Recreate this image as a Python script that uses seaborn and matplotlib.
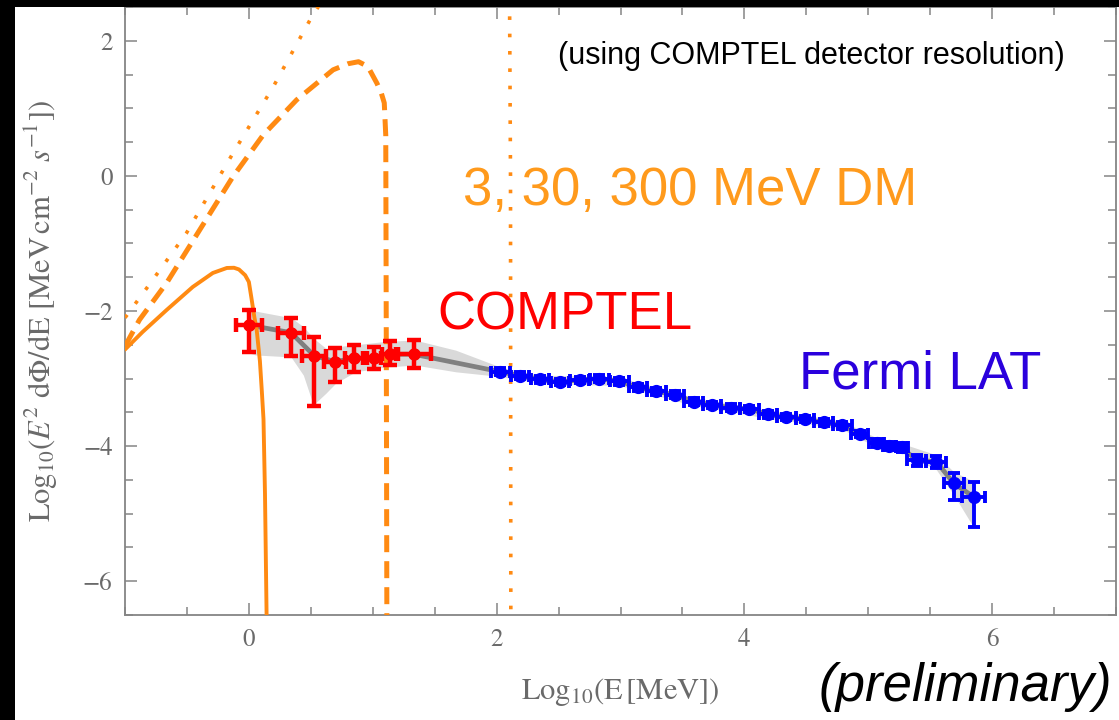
import numpy as np
import matplotlib
matplotlib.use("Agg")
import matplotlib.pyplot as plt
from matplotlib.patches import Rectangle
from matplotlib.ticker import MultipleLocator
import seaborn as sns

# ---------------- data ----------------
# dark-matter spectra (log10 E [MeV], log10 E^2 dPhi/dE)
dm3_x = [-1.0, -0.858, -0.664, -0.453, -0.291, -0.178, -0.12, -0.08, -0.03, 0.0,
         0.02, 0.045, 0.062, 0.089, 0.105, 0.118, 0.130, 0.143, 0.150]
dm3_y = [-2.57, -2.31, -1.985, -1.644, -1.437, -1.363, -1.36, -1.385, -1.47, -1.57,
         -1.80, -2.10, -2.26, -2.74, -3.2, -3.6, -4.70, -6.5, -7.5]

dm30_x = [-1.0, -0.883, -0.664, -0.397, -0.13, 0.116, 0.386, 0.68, 0.80, 0.885,
          0.96, 1.034, 1.07, 1.093, 1.105, 1.11, 1.115]
dm30_y = [-2.52, -2.13, -1.585, -0.80, -0.015, 0.607, 1.126, 1.57, 1.66, 1.69,
          1.62, 1.37, 1.22, 1.08, 0.6, -3.0, -7.5]

dm300_x = [-1.0, -0.8, -0.505, -0.127, 0.197, 0.494, 0.60, 1.0, 1.4, 1.7, 1.88,
           2.0, 2.07, 2.10, 2.112, 2.115]
dm300_y = [-2.10, -1.60, -0.85, 0.34, 1.32, 2.31, 2.62, 3.6, 4.2, 4.55, 4.69,
           4.6, 4.4, 4.1, 0.0, -7.5]

# COMPTEL
comptel_x = [0.0, 0.34, 0.526, 0.696, 0.85, 1.01, 1.136, 1.33]
comptel_y = [-2.21, -2.32, -2.66, -2.75, -2.70, -2.70, -2.64, -2.64]
comptel_xerr = [0.105, 0.108, 0.10, 0.088, 0.075, 0.06, 0.065, 0.14]
comptel_yerr_lo = [0.40, 0.34, 0.74, 0.30, 0.21, 0.16, 0.16, 0.20]
comptel_yerr_hi = [0.22, 0.21, 0.28, 0.20, 0.20, 0.17, 0.19, 0.21]

# Fermi LAT
fermi_x = [2.03, 2.19, 2.35, 2.51, 2.67, 2.83, 2.99, 3.14, 3.29, 3.44, 3.59, 3.74,
           3.89, 4.04, 4.19, 4.34, 4.49, 4.64, 4.79, 4.93, 5.07, 5.17, 5.27, 5.39,
           5.55, 5.69, 5.85]
fermi_y = [-2.90, -2.96, -3.01, -3.05, -3.02, -3.00, -3.04, -3.13, -3.19, -3.24,
           -3.34, -3.39, -3.43, -3.45, -3.53, -3.57, -3.60, -3.65, -3.69, -3.82,
           -3.95, -4.00, -4.02, -4.21, -4.23, -4.55, -4.75]
fermi_xerr = [0.075, 0.075, 0.075, 0.075, 0.075, 0.075, 0.075, 0.075, 0.075, 0.075,
              0.075, 0.075, 0.075, 0.075, 0.075, 0.075, 0.075, 0.075, 0.075, 0.07,
              0.06, 0.05, 0.05, 0.08, 0.08, 0.08, 0.09]
fermi_yerr_lo = [0.05, 0.05, 0.05, 0.05, 0.05, 0.05, 0.05, 0.05, 0.05, 0.05, 0.05,
                 0.05, 0.05, 0.05, 0.05, 0.05, 0.05, 0.05, 0.05, 0.05, 0.06, 0.06,
                 0.06, 0.09, 0.09, 0.25, 0.45]
fermi_yerr_hi = [0.05, 0.05, 0.05, 0.05, 0.05, 0.05, 0.05, 0.05, 0.05, 0.05, 0.05,
                 0.05, 0.05, 0.05, 0.05, 0.05, 0.05, 0.05, 0.05, 0.05, 0.06, 0.06,
                 0.06, 0.08, 0.08, 0.15, 0.22]

# uncertainty band around the combined fit
band_x = [0.0, 0.05, 0.34, 0.44, 0.52, 0.62, 0.70, 0.86, 1.10, 1.34, 1.67, 2.03,
          2.35, 2.67, 2.99, 3.29, 3.59, 3.89, 4.19, 4.49, 4.79, 5.07, 5.27, 5.55,
          5.69, 5.85]
band_hi = [-1.99, -2.00, -2.10, -2.23, -2.40, -2.55, -2.53, -2.50, -2.45, -2.43,
           -2.58, -2.83, -2.95, -2.96, -2.98, -3.13, -3.28, -3.37, -3.47, -3.54,
           -3.63, -3.88, -3.96, -4.13, -4.38, -4.52]
band_lo = [-2.62, -2.65, -2.68, -2.95, -3.39, -3.22, -3.07, -2.90, -2.83, -2.80,
           -2.90, -2.97, -3.07, -3.09, -3.10, -3.25, -3.40, -3.49, -3.59, -3.66,
           -3.75, -4.02, -4.10, -4.35, -4.72, -5.20]

x_major = [0, 2, 4, 6]
y_major = [-6, -4, -2, 0, 2]

# ---------------- style ----------------
sns.set_theme(style="ticks")
plt.rcParams.update({
    "mathtext.fontset": "stix",
    "font.family": ["STIXGeneral", "DejaVu Serif"],
    "axes.unicode_minus": True,
})

ORANGE = "#ff8a12"
ORANGE_TXT = "#ff9a1c"
GRAY_FRAME = "#858585"
GRAY_TXT = "#6a6a6a"

W, H = 1119, 720
fig = plt.figure(figsize=(W / 100, H / 100), dpi=100, facecolor="white")
# black border strips (left & top) as in the screenshot
fig.patches.append(Rectangle((0, 0), 15 / W, 1, transform=fig.transFigure,
                             facecolor="black", edgecolor="none", zorder=0))
fig.patches.append(Rectangle((0, 1 - 7 / H), 1, 7 / H, transform=fig.transFigure,
                             facecolor="black", edgecolor="none", zorder=0))

ax = fig.add_axes([125 / W, 1 - 615 / H, (1116 - 125) / W, (615 - 7) / H])
ax.set_facecolor("white")

# band + central line
ax.fill_between(band_x, band_lo, band_hi, color="#d9d9d9", lw=0, zorder=1)
fit_x = comptel_x + fermi_x
fit_y = comptel_y + fermi_y
sns.lineplot(x=fit_x, y=fit_y, sort=False, estimator=None, color="#808080",
             lw=3.4, ax=ax, zorder=2)

# DM curves
sns.lineplot(x=dm3_x, y=dm3_y, sort=False, estimator=None, color=ORANGE,
             lw=2.8, ax=ax, zorder=3)
sns.lineplot(x=dm30_x, y=dm30_y, sort=False, estimator=None, color=ORANGE,
             lw=3.6, ax=ax, zorder=3)
ax.lines[-1].set_linestyle((0, (3.4, 1.8)))
ax.lines[-1].set_dash_capstyle("butt")
sns.lineplot(x=dm300_x, y=dm300_y, sort=False, estimator=None, color=ORANGE,
             lw=2.6, ax=ax, zorder=3)
ax.lines[-1].set_linestyle((0, (1.0, 3.8)))
ax.lines[-1].set_dash_capstyle("butt")

# data points
ax.errorbar(comptel_x, comptel_y, xerr=comptel_xerr,
            yerr=[comptel_yerr_lo, comptel_yerr_hi], fmt="o", color="#ff0000",
            ms=8, elinewidth=3.2, capsize=5, capthick=3.2, zorder=5)
ax.errorbar(fermi_x, fermi_y, xerr=fermi_xerr,
            yerr=[fermi_yerr_lo, fermi_yerr_hi], fmt="o", color="#0000ff",
            ms=8.5, elinewidth=2.8, capsize=4, capthick=2.8, zorder=5)

# axes
ax.set_xlim(-1, 7)
ax.set_ylim(-6.5, 2.5)
ax.set_xticks(x_major)
ax.set_yticks(y_major)
ax.xaxis.set_minor_locator(MultipleLocator(0.5))
ax.yaxis.set_minor_locator(MultipleLocator(0.5))
ax.tick_params(which="both", direction="in", top=True, right=True,
               color=GRAY_FRAME, width=1.1, labelcolor=GRAY_TXT, labelsize=18)
ax.tick_params(which="major", length=8.5)
ax.tick_params(which="minor", length=5.5)
ax.tick_params(axis="x", pad=9)
ax.tick_params(axis="y", pad=9)
for s in ax.spines.values():
    s.set_color(GRAY_FRAME)
    s.set_linewidth(1.3)

ax.set_xlabel(r"$\mathrm{Log}_{10}(\mathrm{E\,[MeV]})$", color=GRAY_TXT, fontsize=22)
ax.set_ylabel(r"$\mathrm{Log}_{10}(E^{2}\ \mathrm{d\Phi/dE}\ [\mathrm{MeV\,cm}^{-2}\ s^{-1}])$",
              color=GRAY_TXT, fontsize=22)
ax.xaxis.set_label_coords(0.5, (615 - 676) / 608)
ax.yaxis.set_label_coords((60 - 125) / 991, 0.5)

# annotations
SANS = ["Liberation Sans", "DejaVu Sans"]
ax.text(2.494, 1.66, "(using COMPTEL detector resolution)", family=SANS,
        fontsize=22, color="black", ha="left", va="baseline", zorder=6)
ax.text(1.725, -0.43, "3, 30, 300 MeV DM", family=SANS, fontsize=38,
        color=ORANGE_TXT, ha="left", va="baseline", zorder=6)
ax.text(1.52, -2.28, "COMPTEL", family=SANS, fontsize=38, color="#ff0000",
        ha="left", va="baseline", zorder=6)
ax.text(4.445, -3.14, "Fermi LAT", family=SANS, fontsize=38, color="#2a00dd",
        ha="left", va="baseline", zorder=6)
fig.text(1112 / W, 1 - 701 / H, "(preliminary)", family=SANS, style="italic",
         fontsize=38, color="black", ha="right", va="baseline")

fig.savefig("out.png", dpi=100, facecolor=fig.get_facecolor())
